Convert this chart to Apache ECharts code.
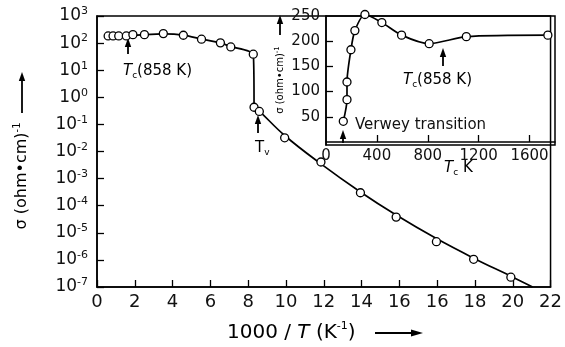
<!DOCTYPE html>
<html>
<head>
<meta charset="utf-8">
<script src="https://cdn.jsdelivr.net/npm/echarts@6/dist/echarts.min.js"></script>
<style>
html, body { margin: 0; padding: 0; background: #fff; }
#chart { width: 565px; height: 347px; }
</style>
</head>
<body>
<div id="chart"></div>
<script>
// main plot: conductivity vs 1000/T (x in tick positions, 2 units per tick)
var xTickLabels = ['0', '2', '4', '6', '8', '10', '12', '14', '16', '16', '18', '20', '22'];
var pointX = [0.59, 0.85, 1.15, 1.55, 1.90, 2.51, 3.51, 4.57, 5.53, 6.53, 7.08, 8.27, 8.31, 8.59, 9.93, 11.85, 13.94, 15.83, 17.96, 19.93, 21.9];
var pointY = [184, 184, 184, 184, 205, 205, 224, 195, 139, 102, 72, 39, 0.43, 0.30, 0.032, 0.0041, 3.0e-4, 3.8e-5, 4.7e-6, 1.05e-6, 2.3e-7];
// the drawn curve: metallic part + drop, then the fitted semiconducting branch
var upperX = [0.59, 1.55, 2.51, 3.51, 4.57, 5.53, 6.53, 7.08, 8.27, 8.31];
var upperY = [184, 186, 205, 218, 198, 142, 102, 74, 39, 0.45];
var lowerX = [8.31, 8.59, 9.93, 11.85, 13.94, 15.83, 17.96, 19.93, 21.9, 23.05];
var lowerY = [0.45, 0.31, 0.039, 0.0035, 3.2e-4, 4.5e-5, 6.1e-6, 1.16e-6, 2.5e-7, 1e-7];

// inset: conductivity vs T
var insetT = [136, 165, 165, 196, 227, 306, 439, 594, 811, 1103, 1744];
var insetSigma = [41, 84, 119, 183, 221, 253, 237, 212, 195, 209, 212];
var insetTTicks = [0, 400, 800, 1200, 1600];
var insetSigmaTicks = [50, 100, 150, 200, 250];

var FONT = 'DejaVu Sans';

function zip(a, b) {
  var out = [];
  for (var i = 0; i < a.length; i++) out.push([a[i], b[i]]);
  return out;
}

function upArrow(x, yBottom, yTip) {
  return {
    type: 'group',
    children: [
      { type: 'line', shape: { x1: x, y1: yBottom, x2: x, y2: yTip + 6 }, style: { stroke: '#000', lineWidth: 1.8 } },
      { type: 'polygon', shape: { points: [[x - 3.2, yTip + 9], [x + 3.2, yTip + 9], [x, yTip]] }, style: { fill: '#000' } }
    ]
  };
}

var supRich = {
  t: { fontFamily: FONT, fontSize: 15, color: '#111', lineHeight: 18 },
  ti: { fontFamily: FONT, fontSize: 15, color: '#111', fontStyle: 'italic', lineHeight: 18 },
  sub: { fontFamily: FONT, fontSize: 9, color: '#111', verticalAlign: 'bottom', lineHeight: 12 }
};

var blackLine = { color: '#000', width: 1.5 };
var blackTick = { color: '#000', width: 1.3 };

var chart = echarts.init(document.getElementById('chart'));
chart.setOption({
  animation: false,
  backgroundColor: '#fff',
  grid: [
    { left: 97, top: 16, width: 456, height: 271, show: true, borderColor: '#000', borderWidth: 1.5 },
    { left: 326, top: 16, width: 229, height: 129, show: true, borderColor: '#000', borderWidth: 1.5 }
  ],
  xAxis: [{
    gridIndex: 0,
    type: 'value',
    min: 0,
    max: 24,
    interval: 2,
    axisLine: { lineStyle: blackLine },
    axisTick: { inside: true, length: 7, lineStyle: blackTick },
    splitLine: { show: false },
    axisLabel: {
      margin: 6,
      hideOverlap: false,
      fontFamily: FONT,
      fontSize: 18,
      color: '#111',
      formatter: function (v) { return xTickLabels[Math.round(v / 2)]; }
    }
  }, {
    gridIndex: 1,
    type: 'value',
    min: 0,
    max: 1800,
    axisLine: { lineStyle: blackLine },
    axisTick: { inside: true, length: 7, customValues: insetTTicks.slice(1), lineStyle: blackTick },
    splitLine: { show: false },
    axisLabel: {
      margin: 4, fontFamily: FONT, fontSize: 15, color: '#111', customValues: insetTTicks,
      formatter: function (v) { return String(v); }
    }
  }],
  yAxis: [{
    gridIndex: 0,
    type: 'log',
    logBase: 10,
    min: 1e-7,
    max: 1e3,
    interval: 1,
    splitNumber: 10,
    axisLine: { lineStyle: blackLine },
    axisTick: { inside: true, length: 7, lineStyle: blackTick },
    splitLine: { show: false },
    axisLabel: {
      margin: 9,
      formatter: function (v) {
        var e = Math.round(Math.log10(v));
        return '{b|10}{s|' + e + '}';
      },
      rich: {
        b: { fontFamily: FONT, fontSize: 17, color: '#111', lineHeight: 20 },
        s: { fontFamily: FONT, fontSize: 11, color: '#111', verticalAlign: 'top', lineHeight: 12 }
      }
    }
  }, {
    gridIndex: 1,
    type: 'value',
    min: -6,
    max: 250,
    axisLine: { lineStyle: blackLine },
    axisTick: { inside: true, length: 7, customValues: insetSigmaTicks.slice(0, 4), lineStyle: blackTick },
    splitLine: { show: false },
    axisLabel: {
      margin: 6, fontFamily: FONT, fontSize: 15, color: '#111', customValues: insetSigmaTicks,
      formatter: function (v) { return String(v); }
    }
  }],
  series: [{
    type: 'line',
    xAxisIndex: 0,
    yAxisIndex: 0,
    data: zip(upperX, upperY),
    showSymbol: false,
    smooth: 0.2,
    lineStyle: { color: '#000', width: 1.7 },
    z: 2
  }, {
    type: 'line',
    xAxisIndex: 0,
    yAxisIndex: 0,
    data: zip(lowerX, lowerY),
    showSymbol: false,
    smooth: 0.4,
    lineStyle: { color: '#000', width: 1.7 },
    z: 2
  }, {
    type: 'scatter',
    xAxisIndex: 0,
    yAxisIndex: 0,
    data: zip(pointX, pointY),
    symbol: 'circle',
    symbolSize: 8,
    itemStyle: { color: '#fff', borderColor: '#000', borderWidth: 1.3, opacity: 1 },
    z: 3
  }, {
    type: 'line',
    xAxisIndex: 1,
    yAxisIndex: 1,
    data: zip(insetT, insetSigma),
    symbol: 'circle',
    symbolSize: 8,
    smooth: 0.25,
    clip: false,
    lineStyle: { color: '#000', width: 1.7 },
    itemStyle: { color: '#fff', borderColor: '#000', borderWidth: 1.3 },
    z: 3
  }],
  graphic: [
    // main y-axis name
    {
      type: 'text', x: 22, y: 176, rotation: Math.PI / 2,
      style: {
        text: '{a|σ (ohm•cm)}{s|-1}', textAlign: 'center', textVerticalAlign: 'middle',
        rich: {
          a: { fontFamily: FONT, fontSize: 16, color: '#111', lineHeight: 20 },
          s: { fontFamily: FONT, fontSize: 10, color: '#111', verticalAlign: 'top', lineHeight: 12 }
        }
      }
    },
    upArrow(22, 113, 72),
    // main x-axis name
    {
      type: 'text', x: 227, y: 333,
      style: {
        text: '{a|1000 / }{i|T}{a| (K}{s|-1}{a|)}', textAlign: 'left', textVerticalAlign: 'middle',
        rich: {
          a: { fontFamily: FONT, fontSize: 20, color: '#111', lineHeight: 24 },
          i: { fontFamily: FONT, fontSize: 20, color: '#111', fontStyle: 'italic', lineHeight: 24 },
          s: { fontFamily: FONT, fontSize: 11, color: '#111', verticalAlign: 'top', lineHeight: 13 }
        }
      }
    },
    { type: 'line', shape: { x1: 375, y1: 333, x2: 414, y2: 333 }, style: { stroke: '#000', lineWidth: 1.8 } },
    { type: 'polygon', shape: { points: [[411, 329.5], [411, 336.5], [423, 333]] }, style: { fill: '#000' } },
    // main Tc annotation
    upArrow(128, 54, 38),
    {
      type: 'text', x: 123, y: 71,
      style: { text: '{ti|T}{sub|c}{t|(858 K)}', textAlign: 'left', textVerticalAlign: 'middle', rich: supRich }
    },
    // Verwey Tv annotation
    upArrow(258, 133, 115),
    {
      type: 'text', x: 255, y: 148,
      style: { text: '{t|T}{sub|v}', textAlign: 'left', textVerticalAlign: 'middle', rich: supRich }
    },
    // inset y-axis name
    {
      type: 'text', x: 280, y: 80, rotation: Math.PI / 2,
      style: {
        text: '{a|σ (ohm•cm)}{s|-1}', textAlign: 'center', textVerticalAlign: 'middle',
        rich: {
          a: { fontFamily: FONT, fontSize: 10, color: '#111', lineHeight: 13 },
          s: { fontFamily: FONT, fontSize: 7, color: '#111', verticalAlign: 'top', lineHeight: 8 }
        }
      }
    },
    upArrow(280, 35, 15),
    // inset annotations
    upArrow(443, 66, 48),
    {
      type: 'text', x: 403, y: 80,
      style: { text: '{ti|T}{sub|c}{t|(858 K)}', textAlign: 'left', textVerticalAlign: 'middle', rich: supRich }
    },
    upArrow(343, 143, 130),
    {
      type: 'text', x: 355, y: 125,
      style: { text: 'Verwey transition', textAlign: 'left', textVerticalAlign: 'middle', fontFamily: FONT, fontSize: 15, fill: '#111' }
    },
    {
      type: 'text', x: 444, y: 168,
      style: { text: '{ti|T}{sub|c}{t| K}', textAlign: 'left', textVerticalAlign: 'middle', rich: supRich }
    }
  ]
});
</script>
</body>
</html>
